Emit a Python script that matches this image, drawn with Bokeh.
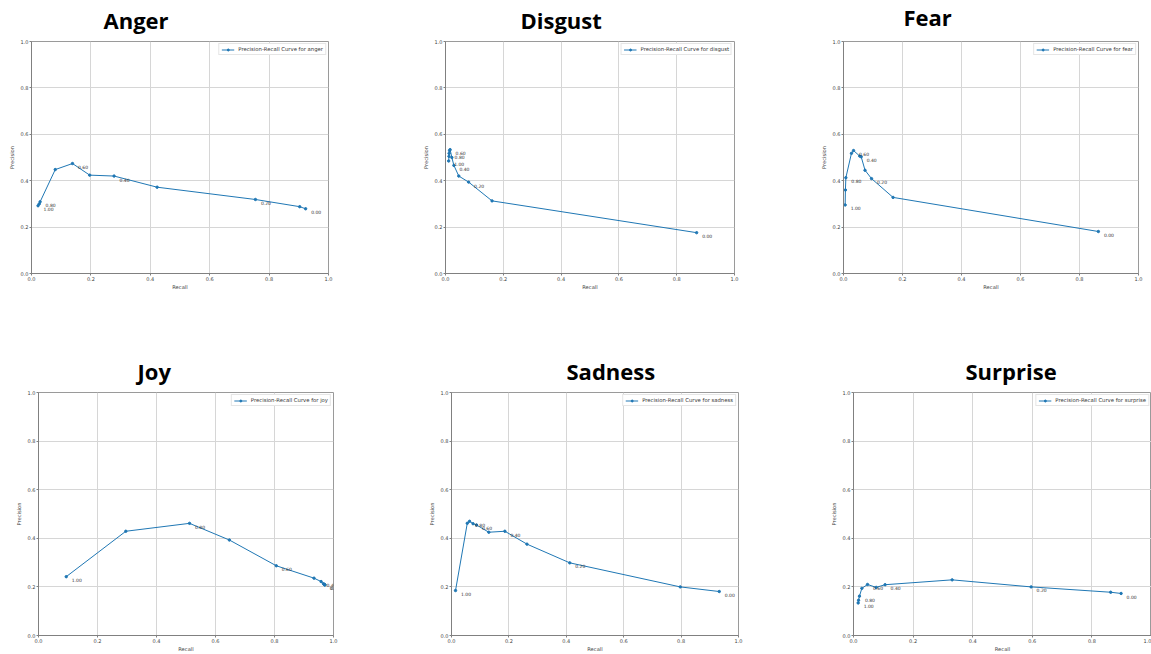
from bokeh.plotting import figure
from bokeh.layouts import row, column
from bokeh.models import ColumnDataSource, Legend, LegendItem, FixedTicker, Range1d
from bokeh.core.properties import value
from bokeh.embed import file_html
from bokeh.resources import INLINE

# ---------------- data ----------------
thresholds = [1.0, 0.9, 0.8, 0.7, 0.6, 0.5, 0.4, 0.3, 0.2, 0.1, 0.0]
threshold_labels = ["1.00", "", "0.80", "", "0.60", "", "0.40", "", "0.20", "", "0.00"]

emotions = ["anger", "disgust", "fear", "joy", "sadness", "surprise"]
titles = ["Anger", "Disgust", "Fear", "Joy", "Sadness", "Surprise"]

anger_recall = [0.022, 0.026, 0.029, 0.080, 0.138, 0.196, 0.278, 0.423, 0.754, 0.903, 0.923]
anger_precision = [0.292, 0.300, 0.309, 0.448, 0.474, 0.424, 0.420, 0.372, 0.319, 0.288, 0.279]

disgust_recall = [0.011, 0.012, 0.0125, 0.014, 0.016, 0.022, 0.029, 0.046, 0.080, 0.161, 0.869]
disgust_precision = [0.485, 0.505, 0.518, 0.530, 0.534, 0.500, 0.466, 0.420, 0.394, 0.313, 0.176]

fear_recall = [0.0056, 0.0065, 0.008, 0.027, 0.034, 0.055, 0.060, 0.073, 0.095, 0.168, 0.864]
fear_precision = [0.2955, 0.360, 0.413, 0.518, 0.530, 0.506, 0.503, 0.445, 0.409, 0.328, 0.181]

joy_recall = [0.094, 0.296, 0.512, 0.647, 0.806, 0.934, 0.958, 0.966, 0.969, 0.970, 0.971]
joy_precision = [0.242, 0.429, 0.4615, 0.393, 0.287, 0.236, 0.222, 0.213, 0.210, 0.209, 0.208]

sadness_recall = [0.014, 0.055, 0.063, 0.075, 0.087, 0.130, 0.186, 0.263, 0.412, 0.797, 0.933]
sadness_precision = [0.185, 0.462, 0.470, 0.460, 0.455, 0.425, 0.429, 0.376, 0.299, 0.200, 0.181]

surprise_recall = [0.0156, 0.017, 0.020, 0.028, 0.047, 0.076, 0.106, 0.331, 0.596, 0.863, 0.898]
surprise_precision = [0.134, 0.145, 0.162, 0.194, 0.210, 0.198, 0.209, 0.229, 0.200, 0.178, 0.173]

tick_values = [0.0, 0.2, 0.4, 0.6, 0.8, 1.0]
tick_labels = ["0.0", "0.2", "0.4", "0.6", "0.8", "1.0"]

series = {
    "anger": (anger_recall, anger_precision),
    "disgust": (disgust_recall, disgust_precision),
    "fear": (fear_recall, fear_precision),
    "joy": (joy_recall, joy_precision),
    "sadness": (sadness_recall, sadness_precision),
    "surprise": (surprise_recall, surprise_precision),
}

# ---------------- layout / style ----------------
BLUE = "#1f77b4"
FONT = "DejaVu Sans"
TFONT = "Open Sans"
SHIFT = 14  # whole page is shifted up by this many px

# width, height, (left, right, top, bottom) borders, title offset from frame left, title standoff
layout_cfg = {
    "anger":    (380, 345, (31, 52, 52, 58), 72, 13),
    "disgust":  (400, 345, (65, 46, 53, 54), 75, 13.6),
    "fear":     (371, 345, (63, 13, 55, 52), 60, 19),
    "joy":      (385, 323, (38, 52, 60, 16), 99, 12.5),
    "sadness":  (405, 323, (66, 52, 60, 18), 115, 12.5),
    "surprise": (361, 323, (63, 0, 61, 12), 112, 13),
}


def make_panel(key, title):
    w, h, (bl, br, bt, bb), toff, tstand = layout_cfg[key]
    recall, precision = series[key]
    p = figure(width=w, height=h, x_range=Range1d(0, 1), y_range=Range1d(0, 1),
               output_backend="svg", toolbar_location=None,
               min_border_left=bl, min_border_right=br,
               min_border_top=bt, min_border_bottom=bb)
    p.background_fill_color = "white"
    p.border_fill_color = "white"
    p.outline_line_color = "#9a9a9a"
    p.outline_line_width = 1

    p.title.text = title
    p.title.align = "left"
    p.title.offset = toff
    p.title.standoff = tstand
    p.title.text_font = TFONT
    p.title.text_font_size = "22px"
    p.title.text_font_style = "bold"
    p.title.text_color = "black"

    for ax in (p.xaxis[0], p.yaxis[0]):
        ax.ticker = FixedTicker(ticks=tick_values)
        ax.major_label_overrides = dict(zip(tick_values, tick_labels))
        ax.major_label_text_font = FONT
        ax.major_label_text_font_size = "5px"
        ax.major_label_text_color = "#444444"
        ax.axis_label_text_font = FONT
        ax.axis_label_text_font_size = "5.2px"
        ax.axis_label_text_font_style = "normal"
        ax.axis_label_text_color = "#444444"
        ax.major_tick_out = 2
        ax.major_tick_in = 0
        ax.minor_tick_out = 0
        ax.minor_tick_in = 0
        ax.axis_line_color = "#808080"
        ax.major_tick_line_color = "#808080"
        ax.major_label_standoff = 1
    p.xaxis.axis_label = "Recall"
    p.yaxis.axis_label = "Precision"
    p.xaxis.axis_label_standoff = 0
    p.yaxis.axis_label_standoff = 3

    p.xgrid.ticker = FixedTicker(ticks=tick_values)
    p.ygrid.ticker = FixedTicker(ticks=tick_values)
    p.grid.grid_line_color = "#d6d6d6"
    p.grid.grid_line_width = 1

    src = ColumnDataSource(dict(x=recall, y=precision))
    ln = p.line("x", "y", source=src, line_color=BLUE, line_width=1)
    pts = p.scatter("x", "y", source=src, size=2.4, fill_color=BLUE, line_color=BLUE)

    idx = [i for i, t in enumerate(threshold_labels) if t]
    lab = ColumnDataSource(dict(x=[recall[i] for i in idx], y=[precision[i] for i in idx],
                                t=[threshold_labels[i] for i in idx]))
    p.text("x", "y", "t", source=lab, x_offset=5.5, y_offset=3.5,
           text_font=value(FONT), text_font_size="4.5px", text_color="#333333",
           text_baseline="middle", text_align="left")

    legend = Legend(items=[LegendItem(label=f"Precision-Recall Curve for {key}", renderers=[ln, pts])],
                    location="top_right")
    legend.label_text_font = FONT
    legend.label_text_font_size = "5.3px"
    legend.label_text_color = "#333333"
    legend.label_height = 5
    legend.glyph_height = 5
    legend.glyph_width = 13
    legend.label_standoff = 4
    legend.padding = 2
    legend.spacing = 0
    legend.margin = 2
    legend.border_line_color = "#cccccc"
    legend.border_line_width = 1
    legend.background_fill_color = "white"
    legend.background_fill_alpha = 1
    p.add_layout(legend)
    return p


figs = [make_panel(k, t) for k, t in zip(emotions, titles)]
page = column(row(*figs[:3]), row(*figs[3:]), margin=(-SHIFT, 0, 0, 0))

open("out.html", "w").write(file_html(page, INLINE))
